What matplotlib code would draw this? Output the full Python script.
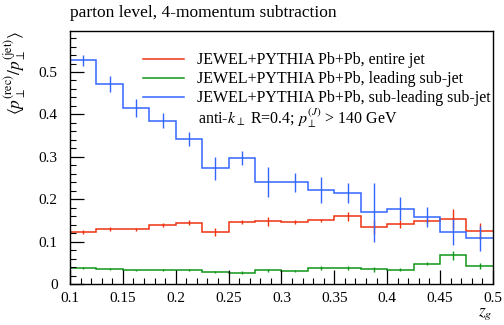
import numpy as np
import matplotlib
matplotlib.use("Agg")
from matplotlib import pyplot as plt
from matplotlib.ticker import MultipleLocator

plt.rcParams['font.family'] = ['Liberation Serif', 'DejaVu Serif']
plt.rcParams['mathtext.fontset'] = 'stix'

# bin edges in z_g
edges = np.arange(0.1, 0.5001, 0.025)

entire_jet = [0.123, 0.130, 0.129, 0.139, 0.145, 0.123, 0.146, 0.148,
              0.146, 0.150, 0.160, 0.134, 0.142, 0.149, 0.153, 0.124]
entire_err = [0.004, 0.004, 0.004, 0.004, 0.005, 0.009, 0.005, 0.011,
              0.005, 0.004, 0.011, 0.016, 0.010, 0.006, 0.024, 0.019]

leading = [0.038, 0.035, 0.032, 0.033, 0.033, 0.028, 0.027, 0.032,
           0.031, 0.038, 0.038, 0.035, 0.034, 0.048, 0.068, 0.043]
leading_err = [0.002, 0.002, 0.002, 0.002, 0.002, 0.003, 0.003, 0.004,
               0.003, 0.004, 0.004, 0.006, 0.004, 0.004, 0.011, 0.007]

subleading = [0.528, 0.472, 0.415, 0.385, 0.342, 0.273, 0.297, 0.240,
              0.240, 0.222, 0.215, 0.169, 0.178, 0.158, 0.123, 0.108]
subleading_err = [0.013, 0.018, 0.021, 0.018, 0.016, 0.027, 0.016, 0.035,
                  0.022, 0.031, 0.024, 0.070, 0.027, 0.024, 0.030, 0.030]

labels = ["JEWEL+PYTHIA Pb+Pb, entire jet",
          "JEWEL+PYTHIA Pb+Pb, leading sub-jet",
          "JEWEL+PYTHIA Pb+Pb, sub-leading sub-jet"]
colors = ["#EE3311", "#109618", "#3366FF"]

fig = plt.figure(figsize=(5.04, 3.25), dpi=100)
ax = fig.add_axes([0.139, 0.126, 0.839, 0.779])

centers = 0.5 * (edges[:-1] + edges[1:])
series = [(entire_jet, entire_err), (leading, leading_err), (subleading, subleading_err)]
for (vals, errs), lab, c in zip(series, labels, colors):
    ax.stairs(vals, edges, color=c, lw=1.1, label=lab, baseline=None)
    ax.errorbar(centers, vals, yerr=errs, fmt='none', ecolor=c, elinewidth=1.0, capsize=0)

ax.set_xlim(0.1, 0.5)
ax.set_ylim(0, 0.597)
ax.xaxis.set_minor_locator(MultipleLocator(0.01))
ax.yaxis.set_minor_locator(MultipleLocator(0.02))
ax.set_xticks(np.arange(0.1, 0.501, 0.05))
ax.set_xticklabels(["0.1", "0.15", "0.2", "0.25", "0.3", "0.35", "0.4", "0.45", "0.5"])
ax.set_yticks(np.arange(0, 0.51, 0.1))
ax.set_yticklabels(["0", "0.1", "0.2", "0.3", "0.4", "0.5"])
ax.tick_params(which='both', direction='in', top=False, right=False, labelsize=11)
ax.tick_params(which='major', length=10, width=0.9)
ax.tick_params(which='minor', length=4.5, width=0.8)
ax.tick_params(axis='y', which='major', pad=9)
ax.tick_params(axis='x', which='major', pad=6)
for s in ax.spines.values():
    s.set_linewidth(1.0)

ax.set_xlabel(r'$z_g$', fontsize=12.5, ha='right', x=1.0)
ax.xaxis.set_label_coords(1.0, -0.085)
ax.set_ylabel(r'$\langle p_\perp^{(\mathrm{rec})}/p_\perp^{(\mathrm{jet})}\rangle$',
              fontsize=12.5, ha='right', y=1.0)
ax.yaxis.set_label_coords(-0.1, 1.0)

ax.text(0.0, 1.04, "parton level, 4-momentum subtraction", transform=ax.transAxes,
        fontsize=12.5, ha='left', va='bottom')

leg = ax.legend(loc='upper right', bbox_to_anchor=(1.01, 0.94), frameon=False,
                fontsize=11.5, handlelength=2.6, handletextpad=0.8, labelspacing=0.18,
                borderaxespad=0.0)
ax.text(0.302, 0.655, r'anti-$k_\perp$ R=0.4; $p_\perp^{(J)}$ > 140 GeV',
        transform=ax.transAxes, fontsize=11.5, ha='left', va='center')

fig.savefig("out.png", dpi=100)
